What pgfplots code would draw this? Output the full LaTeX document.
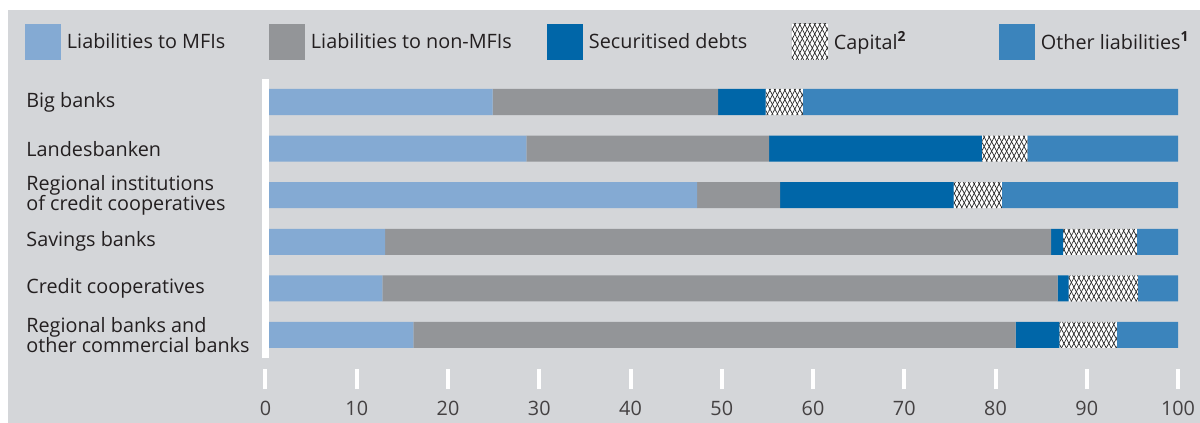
\documentclass[border=0pt]{standalone}
\usepackage{pgfplots}
\pgfplotsset{compat=1.18}
\usetikzlibrary{patterns.meta}
\usepackage{fontspec}
\setmainfont{Open Sans}
\definecolor{bg}{HTML}{D4D6D9}
\definecolor{mfi}{HTML}{84AAD3}
\definecolor{nonmfi}{HTML}{939598}
\definecolor{secdebt}{HTML}{0066A8}
\definecolor{otherl}{HTML}{3B84BC}
\definecolor{txt}{HTML}{231F20}
\begin{document}
\begin{tikzpicture}
\useasboundingbox (0,0) rectangle (600pt,-211.5pt);
\fill[white] (0,0) rectangle (600pt,-211.5pt);
\fill[bg] (4pt,-5pt) rectangle (600pt,-211.5pt);
\begin{axis}[
  at={(132.75pt,-39.35pt)}, anchor=north west,
  scale only axis, width=456.25pt, height=139.8pt,
  axis on top,
  xbar stacked, bar width=13pt,
  xmin=0, xmax=100, ymin=-0.5, ymax=5.5,
  axis lines*=left,
  x axis line style={draw=none},
  y axis line style={white, line width=3.5pt},
  tick align=inside,
  major tick length=10pt,
  xtick={0,10,...,100},
  xtick style={draw=white, line width=2pt, yshift=-15.5pt},
  ytick style={draw=none},
  ytick={0,...,5},
  yticklabels={{Regional banks and\\other commercial banks},{Credit cooperatives},{Savings banks},{Regional institutions\\of credit cooperatives},{Landesbanken},{Big banks}},
  yticklabel style={anchor=west, align=left, inner sep=0pt, xshift=-119.75pt, font=\fontsize{9.9}{10.2}\selectfont, text=txt},
  xticklabel style={anchor=center, inner sep=0pt, yshift=-24.85pt, font=\fontsize{9.9}{11}\selectfont, text=txt!85},
  /pgf/number format/assume math mode=true,
  legend columns=5,
  legend cell align=left,
  legend style={at={(-0.2636,1.1313)}, anchor=west, draw=none, fill=none, inner sep=0pt, outer sep=0pt,
    /tikz/every odd column/.style={column sep=3pt},
    nodes={inner sep=0pt, text=txt}, font=\fontsize{9.9}{11}\selectfont},
  mylegend/.style={legend image code/.code={\fill[##1] (0pt,-9pt) rectangle (18pt,9pt);}},
]
\addplot[fill=mfi, draw=none, mylegend] coordinates {(24.9,5) (28.6,4) (47.3,3) (13.1,2) (12.8,1) (16.2,0)};
\addplot[fill=nonmfi, draw=none, mylegend] coordinates {(24.7,5) (26.6,4) (9.1,3) (73.0,2) (74.0,1) (66.0,0)};
\addplot[fill=secdebt, draw=none, mylegend] coordinates {(5.2,5) (23.3,4) (19.0,3) (1.3,2) (1.2,1) (4.8,0)};
\addplot[fill=white, draw=none, mylegend,
  postaction={pattern={Lines[angle=62,distance=2.2pt,line width=0.35pt]}, pattern color=black!85},
  postaction={pattern={Lines[angle=118,distance=2.2pt,line width=0.35pt]}, pattern color=black!85}]
  coordinates {(4.1,5) (5.0,4) (5.3,3) (8.1,2) (7.6,1) (6.3,0)};
\addplot[fill=otherl, draw=none, mylegend] coordinates {(41.1,5) (16.5,4) (19.3,3) (4.5,2) (4.4,1) (6.7,0)};
\legend{\makebox[101pt][l]{Liabilities to MFIs},\makebox[118pt][l]{Liabilities to non-MFIs},\makebox[101.5pt][l]{Securitised debts},\makebox[82.5pt][l]{Capital\textsuperscript{\bfseries 2}},Other liabilities\textsuperscript{\bfseries 1}}
\end{axis}
\end{tikzpicture}
\end{document}
